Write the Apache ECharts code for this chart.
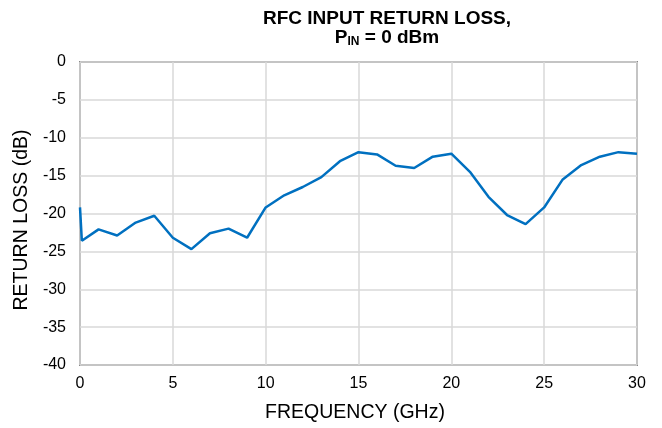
<!DOCTYPE html>
<html>
<head>
<meta charset="utf-8">
<script src="https://cdn.jsdelivr.net/npm/echarts@6/dist/echarts.min.js"></script>
<style>
  html, body { margin: 0; padding: 0; background: #fff; }
  #chart { width: 662px; height: 428px; }
</style>
</head>
<body>
<div id="chart"></div>
<script>
// frequency (GHz) and return loss (dB)
var freq = [0, 0.1, 1, 2, 3, 4, 5, 6, 7, 8, 9, 10, 11, 12, 13, 14, 15, 16, 17, 18, 19, 20,
            21, 22, 23, 24, 25, 26, 27, 28, 29, 30];
var returnLoss = [-19.2, -23.6, -22.1, -22.9, -21.2, -20.3, -23.2, -24.7, -22.6, -22.0, -23.2, -19.2,
                  -17.6, -16.5, -15.2, -13.1, -11.9, -12.2, -13.7, -14.0, -12.5, -12.1,
                  -14.5, -17.8, -20.2, -21.4, -19.2, -15.5, -13.6, -12.5, -11.9, -12.1];

var chart = echarts.init(document.getElementById('chart'));
var font = 'Liberation Sans, Arial, sans-serif';

var option = {
  backgroundColor: '#fff',
  animation: false,
  title: {
    text: 'RFC INPUT RETURN LOSS,\n{p|P}{s|IN}{p| = 0 dBm}',
    left: 382,
    textAlign: 'center',
    top: 4,
    textStyle: {
      fontFamily: font,
      fontSize: 19,
      fontWeight: 'bold',
      color: '#000',
      lineHeight: 19,
      rich: {
        p: { fontFamily: font, fontSize: 19, fontWeight: 'bold', color: '#000', lineHeight: 19 },
        s: { fontFamily: font, fontSize: 12, fontWeight: 'bold', color: '#000', lineHeight: 19, padding: [9, 0, 0, 0] }
      }
    }
  },
  grid: {
    left: 80, right: 25, top: 62, bottom: 63,
    show: true,
    borderColor: '#888',
    borderWidth: 2
  },
  xAxis: {
    type: 'value',
    min: 0, max: 30, interval: 5,
    name: 'FREQUENCY (GHz)',
    nameLocation: 'middle',
    nameGap: 38,
    nameTextStyle: { fontFamily: font, fontSize: 19.5, color: '#000', padding: [0, 7, 0, 0] },
    axisLine: { show: false },
    axisTick: { show: false },
    axisLabel: { fontFamily: font, fontSize: 16, color: '#000', margin: 11 },
    splitLine: { lineStyle: { color: '#d9d9d9', width: 1.5 } }
  },
  yAxis: {
    type: 'value',
    min: -40, max: 0, interval: 5,
    name: 'RETURN LOSS (dB)',
    nameLocation: 'middle',
    nameGap: 43,
    nameTextStyle: { fontFamily: font, fontSize: 19.5, color: '#000', padding: [0, 13, 0, 0] },
    axisLine: { show: false },
    axisTick: { show: false },
    axisLabel: { fontFamily: font, fontSize: 16, color: '#000', margin: 14 },
    splitLine: { lineStyle: { color: '#d9d9d9', width: 1.5 } }
  },
  series: [{
    type: 'line',
    data: freq.map(function (f, i) { return [f, returnLoss[i]]; }),
    showSymbol: false,
    lineStyle: { color: '#0070c0', width: 2.5 },
    z: 3
  }]
};
chart.setOption(option);
</script>
</body>
</html>
